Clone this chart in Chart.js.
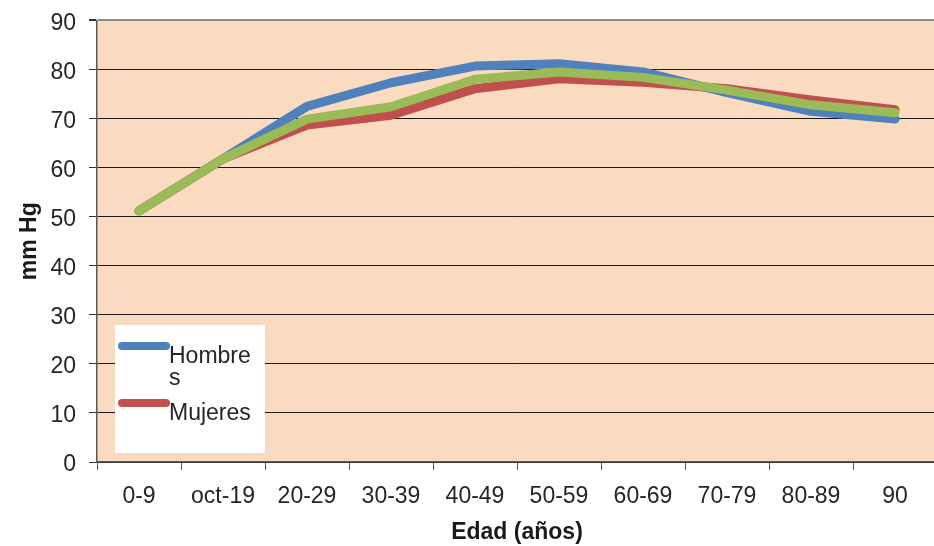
<!DOCTYPE html>
<html lang="es">
<head>
  <meta charset="UTF-8">
  <title>Presión arterial por edad</title>
  <script src="https://cdn.jsdelivr.net/npm/chart.js"></script>
  <style>
    body { margin: 0; background: #fff; overflow: hidden; }
    #wrap { width: 940px; height: 546px; }
  </style>
</head>
<body>
<div id="wrap"><canvas id="chart" width="940" height="546"></canvas></div>
<script>
const edades = ['0-9', 'oct-19', '20-29', '30-39', '40-49', '50-59', '60-69', '70-79', '80-89', '90'];
const hombres = [51.2, 61.8, 72.5, 77.3, 80.7, 81.2, 79.5, 75.3, 71.5, 69.9];
const mujeres = [51.2, 61.8, 68.7, 70.7, 76.1, 78.1, 77.4, 76.1, 73.8, 71.8];
const total   = [51.2, 61.8, 69.9, 72.4, 78.0, 79.5, 78.4, 75.8, 72.8, 71.2];
const yTicks = { min: 0, max: 90, step: 10 };

const font = 'Liberation Sans, Arial, sans-serif';

// peach plot background
const plotBg = {
  id: 'plotBg',
  beforeDraw(chart) {
    const { ctx, chartArea: a } = chart;
    ctx.save();
    ctx.fillStyle = '#FADBBF';
    ctx.fillRect(a.left, a.top, a.right - a.left, a.bottom - a.top);
    ctx.restore();
  }
};

// Excel-like legend box with wrapped labels (only two first series shown)
const boxLegend = {
  id: 'boxLegend',
  afterDraw(chart) {
    const ctx = chart.ctx;
    const x = 115, y = 325, w = 150, h = 128;
    ctx.save();
    ctx.fillStyle = '#fff';
    ctx.fillRect(x, y, w, h);
    ctx.font = '23px ' + font;
    ctx.textBaseline = 'alphabetic';
    let base = 363;
    chart.data.datasets.slice(0, 2).forEach(ds => {
      // wrap by characters
      const lines = [];
      let cur = '';
      for (const ch of ds.label) {
        if (ctx.measureText(cur + ch).width > 88 && cur) { lines.push(cur); cur = ch; }
        else cur += ch;
      }
      lines.push(cur);
      ctx.strokeStyle = ds.borderColor;
      ctx.lineWidth = 8;
      ctx.lineCap = 'round';
      ctx.beginPath();
      ctx.moveTo(122, base - 17);
      ctx.lineTo(166, base - 17);
      ctx.stroke();
      ctx.fillStyle = '#262626';
      lines.forEach((t, i) => ctx.fillText(t, 169, base + i * 22));
      base += lines.length * 22 + 13;
    });
    ctx.restore();
  }
};

const line = (label, data, color, order) => ({
  label, data, order,
  borderColor: color,
  backgroundColor: color,
  borderWidth: 9,
  borderJoinStyle: 'round',
  borderCapStyle: 'round',
  pointRadius: 0,
  tension: 0,
  fill: false
});

new Chart(document.getElementById('chart'), {
  type: 'line',
  data: {
    labels: edades,
    datasets: [
      line('Hombres', hombres, '#4F81BD', 2),
      line('Mujeres', mujeres, '#C0504D', 1),
      line('Total', total, '#9BBB59', 0)
    ]
  },
  options: {
    responsive: false,
    animation: false,
    devicePixelRatio: 1,
    layout: { padding: { top: 0, right: 3, left: 0, bottom: 0 } },
    plugins: { legend: { display: false }, tooltip: { enabled: false } },
    scales: {
      x: {
        offset: true,
        afterFit(s) { s.height = 84; },
        grid: { offset: true, drawOnChartArea: false, drawTicks: true, tickLength: 8, color: '#555' },
        border: { color: '#5a5a5a', width: 1.5 },
        ticks: { font: { family: font, size: 23 }, color: '#262626', padding: 13, maxRotation: 0, autoSkip: false },
        title: { display: true, text: 'Edad (años)', font: { family: font, size: 23, weight: 'bold' }, color: '#1a1a1a', padding: { top: 0, bottom: 0 } }
      },
      y: {
        min: yTicks.min, max: yTicks.max,
        afterFit(s) { s.width = 97; },
        grid: {
          color: c => c.tick && c.tick.value === yTicks.max ? '#8a8a8a' : '#1a1a1a',
          lineWidth: c => c.tick && c.tick.value === yTicks.max ? 2 : 1,
          tickLength: 8, tickColor: '#333'
        },
        border: { color: '#595959', width: 1.5 },
        ticks: { stepSize: yTicks.step, font: { family: font, size: 23, lineHeight: 0.65 }, color: '#262626', padding: 13, labelOffset: 3 },
        title: { display: true, text: 'mm Hg', font: { family: font, size: 23, weight: 'bold' }, color: '#1a1a1a', padding: { top: 16, bottom: 0 } }
      }
    }
  },
  plugins: [plotBg, boxLegend]
});
</script>
</body>
</html>
